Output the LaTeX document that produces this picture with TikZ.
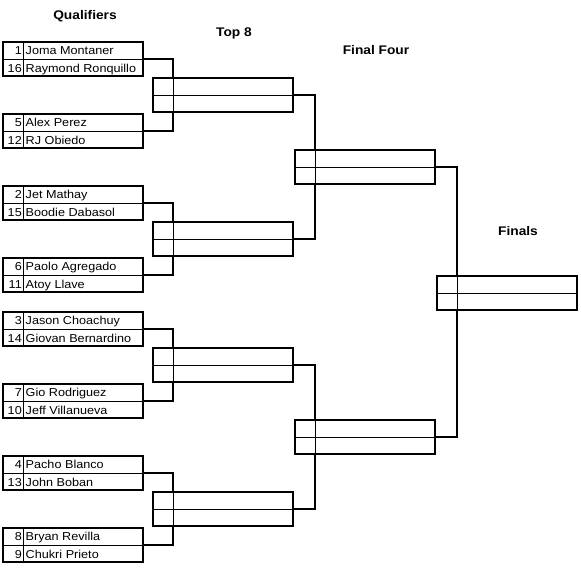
\documentclass[tikz,border=0pt]{standalone}
\usepackage{fontspec}
\setmainfont{Liberation Sans}[FakeStretch=1.1]
\begin{document}
\begin{tikzpicture}[x=1pt,y=-1pt,
  slot/.style={draw,line width=2.2pt,minimum width=140pt,minimum height=34pt,outer sep=0pt,inner sep=0pt},
  conn/.style={line width=2.2pt},
  thinline/.style={line width=1.1pt},
  seed/.style={anchor=base east,inner sep=0pt,font=\fontsize{11.5}{13}\selectfont},
  player/.style={anchor=base west,inner sep=0pt,font=\fontsize{11.5}{13}\selectfont},
  head/.style={anchor=base,inner sep=0pt,font=\fontsize{12.5}{14}\selectfont\bfseries}]
\useasboundingbox (0,0) rectangle (580,580);
% headers
\node[head] (h1) at (85,20) {Qualifiers};
\node[head] (h2) at (234,36.7) {Top 8};
\node[head] (h3) at (376,55) {Final Four};
\node[head] (h4) at (518,235) {Finals};
% qualifier boxes
\foreach \n/\t in {1/42,2/114,3/186,4/258,5/312,6/384,7/456,8/528}{
  \node[slot,anchor=north west] (q\n) at (3,\t) {};
}
% top 8 boxes
\foreach \n/\m in {1/95,2/239,3/365,4/509}{
  \node[slot,anchor=west] (t\n) at (153,\m) {};
}
% final four
\node[slot,anchor=west] (f1) at (295,167) {};
\node[slot,anchor=west] (f2) at (295,437) {};
% finals
\node[slot,anchor=west] (ch) at (437,293) {};
% inner lines
\foreach \b in {q1,q2,q3,q4,q5,q6,q7,q8,t1,t2,t3,t4,f1,f2,ch}{
  \draw[thinline] ([yshift=-0.5pt]\b.west) -- ([yshift=-0.5pt]\b.east);
  \draw[thinline] ([xshift=20.5pt]\b.north west) -- ([xshift=20.5pt]\b.south west);
}
% names
\newcommand{\pairtext}[5]{%
  \node[seed] (#1a) at ([xshift=19pt,yshift=-12.5pt]#1.north west) {#2};
  \node[player] (#1b) at ([xshift=22.5pt,yshift=-12.5pt]#1.north west) {#3};
  \node[seed] (#1c) at ([xshift=19pt,yshift=-30.5pt]#1.north west) {#4};
  \node[player] (#1d) at ([xshift=22.5pt,yshift=-30.5pt]#1.north west) {#5};
}
\pairtext{q1}{1}{Joma Montaner}{16}{Raymond Ronquillo}
\pairtext{q2}{5}{Alex Perez}{12}{RJ Obiedo}
\pairtext{q3}{2}{Jet Mathay}{15}{Boodie Dabasol}
\pairtext{q4}{6}{Paolo Agregado}{11}{Atoy Llave}
\pairtext{q5}{3}{Jason Choachuy}{14}{Giovan Bernardino}
\pairtext{q6}{7}{Gio Rodriguez}{10}{Jeff Villanueva}
\pairtext{q7}{4}{Pacho Blanco}{13}{John Boban}
\pairtext{q8}{8}{Bryan Revilla}{9}{Chukri Prieto}
% connectors
\draw[conn] (q1.east) -| ([xshift=20pt]t1.north west);
\draw[conn] (q2.east) -| ([xshift=20pt]t1.south west);
\draw[conn] (q3.east) -| ([xshift=20pt]t2.north west);
\draw[conn] (q4.east) -| ([xshift=20pt]t2.south west);
\draw[conn] (q5.east) -| ([xshift=20pt]t3.north west);
\draw[conn] (q6.east) -| ([xshift=20pt]t3.south west);
\draw[conn] (q7.east) -| ([xshift=20pt]t4.north west);
\draw[conn] (q8.east) -| ([xshift=20pt]t4.south west);
\draw[conn] (t1.east) -| ([xshift=20pt]f1.north west);
\draw[conn] (t2.east) -| ([xshift=20pt]f1.south west);
\draw[conn] (t3.east) -| ([xshift=20pt]f2.north west);
\draw[conn] (t4.east) -| ([xshift=20pt]f2.south west);
\draw[conn] (f1.east) -| ([xshift=20pt]ch.north west);
\draw[conn] (f2.east) -| ([xshift=20pt]ch.south west);
\end{tikzpicture}
\end{document}
